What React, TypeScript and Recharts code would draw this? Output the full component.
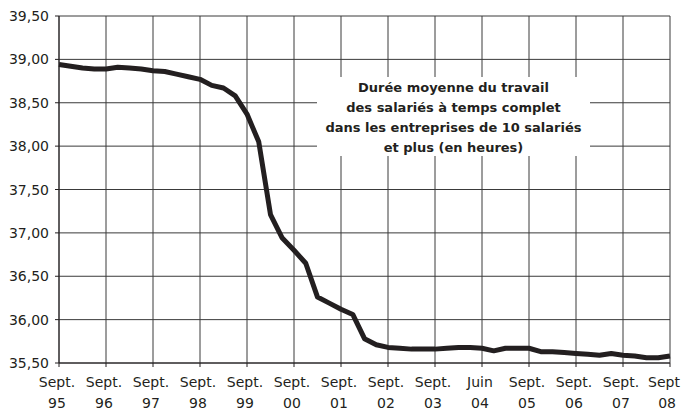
import React from 'react';
import { LineChart, Line, XAxis, YAxis, CartesianGrid } from 'recharts';

// Durée moyenne du travail, quarterly, Sept. 95 -> Sept. 08 (53 points)
const hours = [
  38.94, 38.92, 38.9, 38.89, 38.89, 38.91, 38.9, 38.89, 38.87, 38.86,
  38.83, 38.8, 38.77, 38.7, 38.67, 38.58, 38.37, 38.05, 37.21, 36.94,
  36.8, 36.65, 36.26, 36.19, 36.12, 36.06, 35.78, 35.71, 35.68, 35.67,
  35.66, 35.66, 35.66, 35.67, 35.68, 35.68, 35.67, 35.64, 35.67, 35.67,
  35.67, 35.63, 35.63, 35.62, 35.61, 35.6, 35.59, 35.61, 35.59, 35.58,
  35.56, 35.56, 35.58,
];

const xTicks = [0, 4, 8, 12, 16, 20, 24, 28, 32, 36, 40, 44, 48, 52];
const tickMonth = [
  'Sept.', 'Sept.', 'Sept.', 'Sept.', 'Sept.', 'Sept.', 'Sept.',
  'Sept.', 'Sept.', 'Juin', 'Sept.', 'Sept.', 'Sept.', 'Sept',
];
const tickYear = ['95', '96', '97', '98', '99', '00', '01', '02', '03', '04', '05', '06', '07', '08'];

const yTicks = [35.5, 36, 36.5, 37, 37.5, 38, 38.5, 39, 39.5];
const yTickLabels = ['35,50', '36,00', '36,50', '37,00', '37,50', '38,00', '38,50', '39,00', '39,50'];

const titleLines = [
  'Durée moyenne du travail',
  'des salariés à temps complet',
  'dans les entreprises de 10 salariés',
  'et plus (en heures)',
];

const data = hours.map((h, i) => ({ q: i, hours: h }));

const INK = '#231f20';
const GRID = '#3a3a3a';
const FONT = '"DejaVu Sans", Verdana, sans-serif';

const XTick = (props: any) => {
  const { x, payload } = props;
  const i = xTicks.indexOf(payload.value);
  // last label sits against the right edge of the page
  const last = i === xTicks.length - 1;
  return (
    <g fontFamily={FONT} fontSize={14} fill={INK}>
      <text x={last ? 680 : x - 2} y={387} textAnchor={last ? 'end' : 'middle'}>{tickMonth[i]}</text>
      <text x={last ? 676 : x - 2} y={408} textAnchor={last ? 'end' : 'middle'}>{tickYear[i]}</text>
    </g>
  );
};

const YTick = (props: any) => {
  const { y, payload } = props;
  const i = yTicks.indexOf(payload.value);
  return (
    <text x={49} y={y} dy="0.36em" textAnchor="end" fontFamily={FONT} fontSize={14} fill={INK}>
      {yTickLabels[i]}
    </text>
  );
};

export default function App() {
  return (
    <div style={{ position: 'fixed', top: 0, left: 0, width: 682, height: 414, background: '#fff' }}>
      <LineChart
        width={682}
        height={414}
        data={data}
        margin={{ top: 16, right: 12, bottom: 0, left: 0 }}
      >
        <CartesianGrid stroke={GRID} strokeWidth={1} />
        <XAxis
          dataKey="q"
          type="number"
          domain={[0, 52]}
          ticks={xTicks}
          interval={0}
          height={51}
          tickSize={4}
          tickLine={{ stroke: INK }}
          axisLine={{ stroke: INK }}
          tick={<XTick />}
        />
        <YAxis
          type="number"
          domain={[35.5, 39.5]}
          ticks={yTicks}
          interval={0}
          width={59}
          tickSize={4}
          tickLine={{ stroke: INK }}
          axisLine={{ stroke: INK }}
          tick={<YTick />}
        />
        <Line
          type="linear"
          dataKey="hours"
          stroke={INK}
          strokeWidth={5}
          strokeLinejoin="round"
          dot={false}
          isAnimationActive={false}
        />
      </LineChart>
      <div
        style={{
          position: 'absolute',
          left: 317,
          top: 77,
          width: 273,
          height: 79,
          paddingTop: 1,
          boxSizing: 'border-box',
          background: '#fff',
          fontFamily: FONT,
          fontWeight: 'bold',
          fontSize: 13,
          lineHeight: '20px',
          color: INK,
          textAlign: 'center',
        }}
      >
        {titleLines.map((t) => (
          <div key={t}>{t}</div>
        ))}
      </div>
    </div>
  );
}
